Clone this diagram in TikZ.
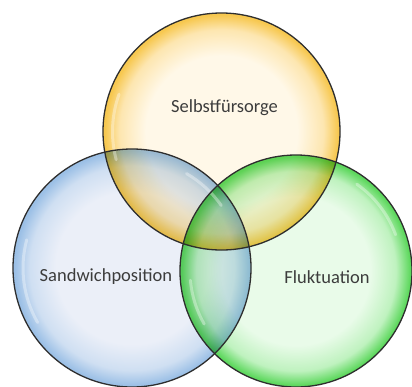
\documentclass[tikz,border=0pt]{standalone}
\usepackage{fontspec}
\setmainfont{Carlito}
\definecolor{yin}{HTML}{FFF8E8}
\definecolor{ymid}{HTML}{FDE6B0}
\definecolor{yout}{HTML}{F7C850}
\definecolor{bin}{HTML}{EBEFF8}
\definecolor{bmid}{HTML}{CFDFF2}
\definecolor{bout}{HTML}{9CC0E6}
\definecolor{gin}{HTML}{E9FBE9}
\definecolor{gmid}{HTML}{BFF2BF}
\definecolor{gout}{HTML}{5ED85E}
\definecolor{rimline}{HTML}{2E2E2E}
\definecolor{txt}{HTML}{3C3C3C}
\pgfdeclareradialshading{yshade}{\pgfpoint{0bp}{0bp}}{color(0bp)=(yin); color(16bp)=(yin); color(21.5bp)=(ymid); color(24.6bp)=(yout); color(25bp)=(yout); color(50bp)=(yout)}
\pgfdeclareradialshading{bshade}{\pgfpoint{0bp}{0bp}}{color(0bp)=(bin); color(16bp)=(bin); color(21.5bp)=(bmid); color(24.6bp)=(bout); color(25bp)=(bout); color(50bp)=(bout)}
\pgfdeclareradialshading{gshade}{\pgfpoint{0bp}{0bp}}{color(0bp)=(gin); color(16bp)=(gin); color(21.5bp)=(gmid); color(24.6bp)=(gout); color(25bp)=(gout); color(50bp)=(gout)}
\tikzset{
  venn/.style={circle, inner sep=0pt, outer sep=0pt},
  rim/.style={draw=rimline, line width=1.3pt},
  gloss/.style={white, line width=3pt, line cap=round, opacity=0.35},
  label/.style={font=\fontsize{18.5}{22}\selectfont, text=txt}
}
\begin{document}
\begin{tikzpicture}[x=1pt,y=-1pt]
\useasboundingbox (0,0) rectangle (412,386);
\fill[white] (0,0) rectangle (412,386);
\begin{scope}[blend mode=multiply]
\node[venn, minimum size=237pt, shading=yshade] (top) at (221.5,131.5) {};
\node[venn, minimum size=238pt, shading=bshade] (left) at (132,268) {};
\node[venn, minimum size=232pt, shading=gshade] (right) at (296,271) {};
\end{scope}
\draw[gloss] (top.center) ++(165:109) arc[start angle=165, end angle=200, radius=109];
\draw[gloss] (left.center) ++(150:109) arc[start angle=150, end angle=195, radius=109];
\draw[gloss] (left.center) ++(-35:109) arc[start angle=-35, end angle=-60, radius=109];
\draw[gloss] (right.center) ++(-20:106) arc[start angle=-20, end angle=-55, radius=106];
\draw[gloss] (right.center) ++(150:106) arc[start angle=150, end angle=175, radius=106];
\draw[rim] (top.center) circle[radius=118.5];
\draw[rim] (left.center) circle[radius=119];
\draw[rim] (right.center) circle[radius=116];
\node[label] (t1) at (224.5,107.5) {Selbstfürsorge};
\node[label] (t2) at (106,277) {Sandwichposition};
\node[label] (t3) at (327,277) {Fluktuation};
\end{tikzpicture}
\end{document}
